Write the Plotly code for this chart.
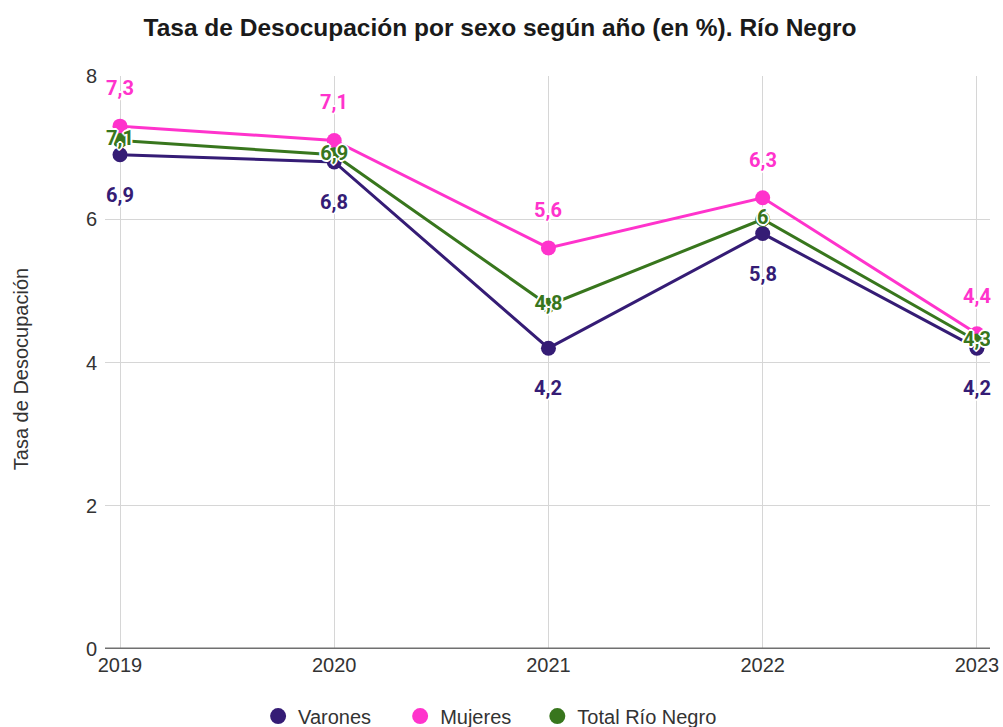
import plotly.graph_objects as go

years = [2019, 2020, 2021, 2022, 2023]
varones = [6.9, 6.8, 4.2, 5.8, 4.2]
mujeres = [7.3, 7.1, 5.6, 6.3, 4.4]
total = [7.1, 6.9, 4.8, 6.0, 4.3]
y_ticks = [0, 2, 4, 6, 8]
series_names = ["Varones", "Mujeres", "Total Río Negro"]

c_var = "#351c75"
c_muj = "#ff33cc"
c_tot = "#38761d"

def fmt(v):
    return ("%g" % v).replace(".", ",")

halo = ("1px 1px 0 white, -1px -1px 0 white, 1px -1px 0 white, -1px 1px 0 white, "
        "0 2px 0 white, 0 -2px 0 white, 2px 0 0 white, -2px 0 0 white")
lab_font = dict(family="Roboto, Noto Sans, sans-serif", size=20, weight="bold")
base_font = "Liberation Sans, Arial, sans-serif"

fig = go.Figure()
for name, vals, col in [(series_names[0], varones, c_var), (series_names[1], mujeres, c_muj)]:
    fig.add_trace(go.Scatter(x=years, y=vals, name=name, mode="lines+markers", showlegend=False,
                             line=dict(color=col, width=3), marker=dict(size=15, color=col)))
fig.add_trace(go.Scatter(x=years, y=total, name=series_names[2], mode="lines+markers+text",
                         showlegend=False,
                         line=dict(color=c_tot, width=3), marker=dict(size=15, color=c_tot),
                         text=[fmt(v) for v in total], textposition="middle center",
                         textfont=dict(color=c_tot, shadow=halo, **lab_font)))
# legend entries (marker only), one legend box each
legend_ids = ["legend", "legend2", "legend3"]
for name, col, lg in zip(series_names, [c_var, c_muj, c_tot], legend_ids):
    fig.add_trace(go.Scatter(x=[None], y=[None], name=name, mode="markers", legend=lg,
                             marker=dict(size=18, color=col)))

annotations = []
for x, v in zip(years, mujeres):
    annotations.append(dict(x=x, y=v, text=fmt(v), showarrow=False, yshift=38,
                            font=dict(color=c_muj, shadow=halo, **lab_font)))
for x, v in zip(years, varones):
    annotations.append(dict(x=x, y=v, text=fmt(v), showarrow=False, yshift=-40,
                            font=dict(color=c_var, shadow=halo, **lab_font)))
annotations.append(dict(text="Tasa de Desocupación", textangle=-90, showarrow=False,
                        xref="paper", yref="paper", x=-0.094, y=0.488,
                        xanchor="center", yanchor="middle",
                        font=dict(family=base_font, size=20, color="#333")))

leg_common = dict(orientation="h", xanchor="left", y=-0.117, yanchor="middle",
                  font=dict(family=base_font, size=20, color="#333"), itemsizing="trace",
                  bgcolor="rgba(0,0,0,0)")
fig.update_layout(
    width=1003, height=727, autosize=False,
    paper_bgcolor="white", plot_bgcolor="white",
    margin=dict(l=105, r=13, t=75.5, b=78, autoexpand=False),
    title=dict(text="<b>Tasa de Desocupación por sexo según año (en %). Río Negro</b>",
               x=0.4985, xref="container", xanchor="center", y=0.9629, yanchor="middle",
               font=dict(family=base_font, size=24.5, color="#1a1a1a")),
    font=dict(family=base_font, size=20, color="#333"),
    xaxis=dict(range=[2018.930, 2023.061], tickmode="array", tickvals=years,
               ticktext=[str(y) for y in years], showgrid=True, gridcolor="#d6d6d6",
               gridwidth=1, zeroline=False, showline=False, ticks="", automargin=False,
               ticklabelstandoff=2,
               tickfont=dict(family=base_font, size=20, color="#333")),
    yaxis=dict(range=[0, 8], tickmode="array", tickvals=y_ticks,
               showgrid=True, gridcolor="#d6d6d6", gridwidth=1, zeroline=False,
               showline=False, ticks="", automargin=False, ticklabelstandoff=7,
               tickfont=dict(family=base_font, size=20, color="#333")),
    legend=dict(x=0.173, **leg_common),
    legend2=dict(x=0.3335, **leg_common),
    legend3=dict(x=0.4885, **leg_common),
    annotations=annotations,
    shapes=[dict(type="line", xref="paper", yref="y", x0=0, x1=1, y0=0, y1=0,
                 line=dict(color="#707070", width=3), layer="above")],
)

fig.write_html("out.html", config={"displayModeBar": False},
               post_script="document.body.style.margin='0';document.body.style.overflow='hidden';")
